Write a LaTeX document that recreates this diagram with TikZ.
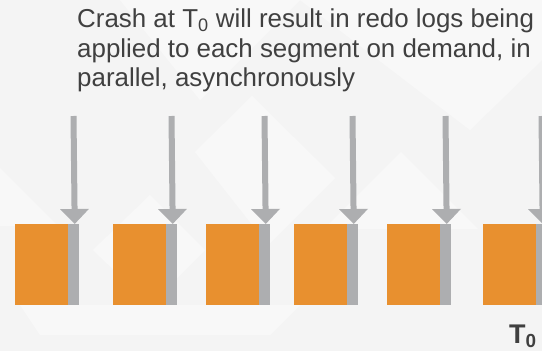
\documentclass[tikz,border=0pt]{standalone}
\usepackage{fontspec}
\setmainfont{Liberation Sans}
\usetikzlibrary{arrows.meta}

\definecolor{segorange}{HTML}{E8902F}
\definecolor{loggray}{HTML}{ADAEB0}
\definecolor{inkgray}{HTML}{404040}
\definecolor{paper}{HTML}{F4F4F4}

\tikzset{
  segbox/.style={fill=segorange, draw=none, inner sep=0pt, minimum width=53pt, minimum height=81pt, anchor=north west},
  logstrip/.style={fill=loggray, draw=none, inner sep=0pt, minimum width=11pt, minimum height=81pt, anchor=north west},
  redo/.style={draw=loggray, line width=6pt, -{Triangle[width=28pt,length=15pt]}},
  haze/.style={fill=white, draw=none, opacity=0.4},
  captionline/.style={anchor=base west, inner sep=0pt, text=inkgray, font=\fontsize{25.9}{29.7}\selectfont},
}

\begin{document}
\begin{tikzpicture}[x=1pt, y=-1pt]
  % canvas
  \fill[paper] (0,0) rectangle (542,351);
  \useasboundingbox (0,0) rectangle (542,351);

  % soft background facets
  \fill[haze] (120,0) -- (542,0) -- (542,60) -- (470,130) -- (300,0) -- (200,100) -- cycle;
  \fill[haze] (195,152) -- (252,96) -- (335,178) -- (268,245) -- cycle;
  \fill[haze] (401,152) -- (478,229) -- (324,229) -- cycle;
  \fill[haze] (0,168) -- (58,226) -- (0,226) -- cycle;
  \fill[haze] (93,250) -- (150,195) -- (205,250) -- (150,305) -- cycle;
  \fill[haze] (20,305) -- (300,305) -- (270,335) -- (40,335) -- cycle;

  % description
  \node[captionline] (caption1) at (77,27.5) {Crash at T\textsubscript{0} will result in redo logs being};
  \node[captionline] (caption2) at (77,57.2) {applied to each segment on demand, in};
  \node[captionline] (caption3) at (77,86.9) {parallel, asynchronously};

  % segments, each with its redo log strip and incoming arrow
  \foreach \i/\x in {1/15, 2/113, 3/206, 4/294, 5/387, 6/483} {
    \node[segbox] (seg\i) at (\x,224) {};
    \node[logstrip] (log\i) at (\x+53,224) {};
    \coordinate (src\i) at (\x+58.5,116);
    \draw[redo] (src\i) -- ([xshift=1pt]log\i.north);
  }

  % crash point label
  \node[anchor=base west, inner sep=0pt, text=inkgray,
        font=\fontsize{27}{30}\selectfont\bfseries] (crash) at (509,343)
    {T\textsubscript{0}};
\end{tikzpicture}
\end{document}
